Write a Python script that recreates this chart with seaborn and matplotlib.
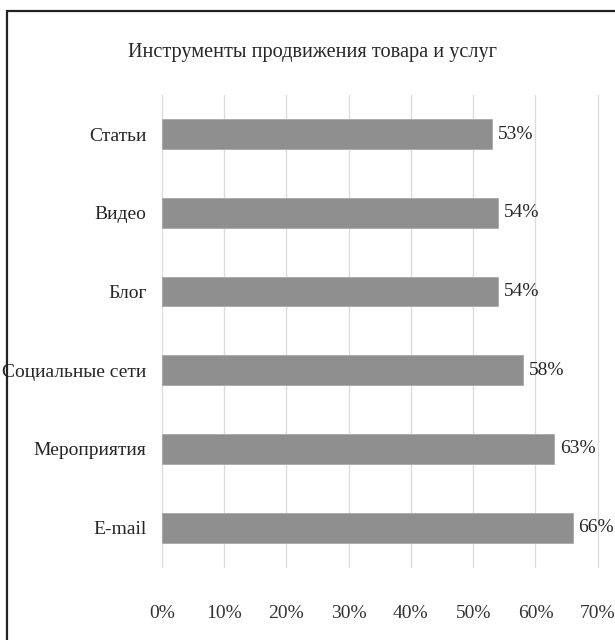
import matplotlib
matplotlib.use("Agg")
import matplotlib.pyplot as plt
import seaborn as sns
from matplotlib.patches import Rectangle

# --- DATA ---
categories = ["Статьи", "Видео", "Блог", "Социальные сети", "Мероприятия", "E-mail"]
values = [53, 54, 54, 58, 63, 66]  # percent
x_ticks = [0, 10, 20, 30, 40, 50, 60, 70]
title = "Инструменты продвижения товара и услуг"

sns.set_theme(style="white")
plt.rcParams["font.family"] = ["Liberation Serif", "DejaVu Serif"]

fig = plt.figure(figsize=(6.15, 6.4), dpi=100)
ax = fig.add_axes([0.263, 0.114, 0.709, 0.738])

sns.barplot(x=values, y=categories, orient="h", color="#8f8f8f",
            saturation=1, width=0.38, edgecolor="#a8a8a8", linewidth=0.6, ax=ax)

ax.set_xlim(0, 70)
ax.set_xticks(x_ticks)
ax.set_xticklabels([f"{t}%" for t in x_ticks])
ax.grid(axis="x", color="#dcdcdc", linewidth=1)
for gl in ax.get_xgridlines():
    gl.set_clip_on(False)
ax.set_axisbelow(True)
for s in ax.spines.values():
    s.set_visible(False)
ax.tick_params(axis="x", length=0, pad=27, labelsize=14, labelcolor="#333333")
ax.tick_params(axis="y", length=0, pad=11, labelsize=14, labelcolor="#262626")
ax.set_xlabel("")
ax.set_ylabel("")

ax.bar_label(ax.containers[0], labels=[f"{v}%" for v in values],
             padding=4, fontsize=14, color="#262626")

fig.text(312 / 615, 1 - 52 / 640, title, ha="center", va="center",
         fontsize=14.6, color="#262626")

# chart border (cut off at right and bottom)
fig.add_artist(Rectangle((7 / 615, -0.1), 1.2, 1.1 - 11 / 640,
                         transform=fig.transFigure, fill=False,
                         edgecolor="#222222", linewidth=1.6))

fig.savefig("out.png", dpi=100, facecolor="white")
